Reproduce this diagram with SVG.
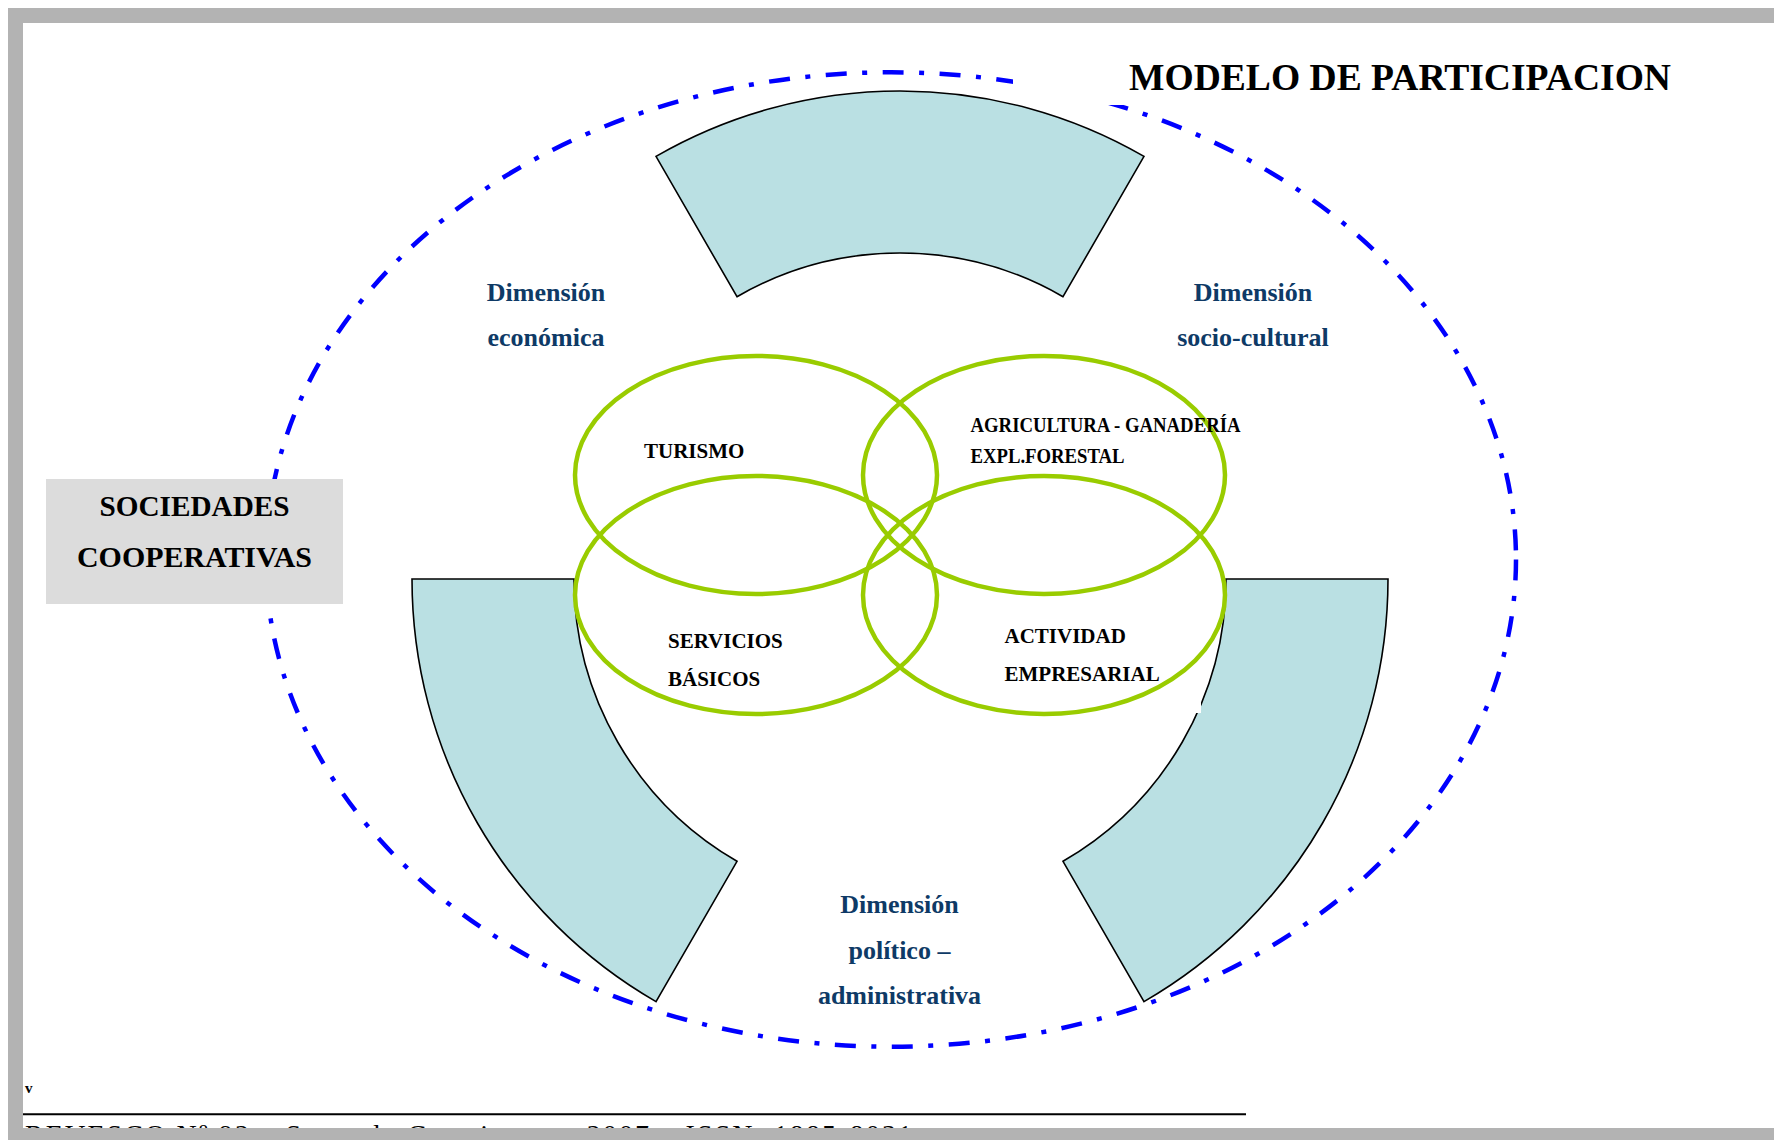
<svg xmlns="http://www.w3.org/2000/svg" width="1774" height="1140" viewBox="0 0 1774 1140">
<style>
.band{fill:#BAE0E3;stroke:#000;stroke-width:1.6;stroke-linejoin:miter}
.venn{fill:none;stroke:#99CC00;stroke-width:4.5}
.dim{font-family:"Liberation Serif","Times New Roman",serif;font-weight:bold;font-size:26px;fill:#0E3A66;text-anchor:middle}
.lbl{font-family:"Liberation Serif","Times New Roman",serif;font-weight:bold;font-size:21px;fill:#000}
.frame{fill:#B3B3B3}
</style>
<rect x="0" y="0" width="1774" height="1140" fill="#fff"/>
<g id="frame">
<rect class="frame" x="8" y="8" width="1766" height="15"/>
<rect class="frame" x="8" y="8" width="15" height="1132"/>
</g>
<g id="outer-ellipse">
<ellipse cx="891" cy="559.5" rx="625" ry="487.2" fill="none" stroke="#0000FF" stroke-width="4.5" stroke-dasharray="21 15.5 5 15.5"/>
</g>
<g id="title">
<rect x="1013" y="24" width="700" height="81" fill="#fff"/>
<text x="1129" y="90" font-family="Liberation Serif,'Times New Roman',serif" font-weight="bold" font-size="37" textLength="542" lengthAdjust="spacingAndGlyphs">MODELO DE PARTICIPACION</text>
</g>
<g id="band-top">
<path class="band" d="M656,156.4 A488,488 0 0 1 1144,156.4 L1063,296.7 A326,326 0 0 0 737,296.7 Z"/>
</g>
<g id="band-left">
<path class="band" d="M412,579 L574,579 A326,326 0 0 0 737,861.3 L656,1001.6 A488,488 0 0 1 412,579 Z"/>
</g>
<g id="band-right">
<path class="band" d="M1388,579 L1226,579 A326,326 0 0 1 1063,861.3 L1144,1001.6 A488,488 0 0 0 1388,579 Z"/>
<rect x="1150" y="686" width="51" height="27" fill="#fff"/>
</g>
<g id="sociedades">
<rect x="46" y="479" width="297" height="125" fill="#DCDCDC"/>
<text x="194.5" y="516" font-family="Liberation Serif,'Times New Roman',serif" font-weight="bold" font-size="29" text-anchor="middle" textLength="190" lengthAdjust="spacingAndGlyphs">SOCIEDADES</text>
<text x="194.5" y="567" font-family="Liberation Serif,'Times New Roman',serif" font-weight="bold" font-size="29" text-anchor="middle" textLength="235" lengthAdjust="spacingAndGlyphs">COOPERATIVAS</text>
</g>
<g id="dim-economica">
<text class="dim" x="546" y="301">Dimensión</text>
<text class="dim" x="546" y="346">económica</text>
</g>
<g id="dim-sociocultural">
<text class="dim" x="1253" y="301">Dimensión</text>
<text class="dim" x="1253" y="346">socio-cultural</text>
</g>
<g id="dim-politico">
<text class="dim" x="899.5" y="913">Dimensión</text>
<text class="dim" x="899.5" y="958.5">político –</text>
<text class="dim" x="899.5" y="1004">administrativa</text>
</g>
<g id="turismo">
<ellipse class="venn" cx="756" cy="475" rx="181" ry="119"/>
<text class="lbl" x="644" y="458">TURISMO</text>
</g>
<g id="agricultura">
<ellipse class="venn" cx="1044" cy="475" rx="181" ry="119"/>
<text class="lbl" x="970.5" y="431.7" font-size="18.5" textLength="270" lengthAdjust="spacingAndGlyphs">AGRICULTURA - GANADERÍA</text>
<text class="lbl" x="970.5" y="462.7" font-size="18.5" textLength="154" lengthAdjust="spacingAndGlyphs">EXPL.FORESTAL</text>
</g>
<g id="servicios">
<ellipse class="venn" cx="756" cy="595" rx="181" ry="119"/>
<text class="lbl" x="668" y="647.7">SERVICIOS</text>
<text class="lbl" x="668" y="685.7">BÁSICOS</text>
</g>
<g id="actividad">
<ellipse class="venn" cx="1044" cy="595" rx="181" ry="119"/>
<text class="lbl" x="1004.5" y="643.3">ACTIVIDAD</text>
<text class="lbl" x="1004.5" y="680.7">EMPRESARIAL</text>
</g>
<g id="connectors"></g>
<g id="footer">
<text x="25" y="1093" font-family="Liberation Serif,'Times New Roman',serif" font-weight="bold" font-size="15">v</text>
<line x1="23" y1="1114.3" x2="1246" y2="1114.3" stroke="#000" stroke-width="2"/>
<text x="25" y="1144" font-family="Liberation Serif,'Times New Roman',serif" font-size="28" textLength="887" lengthAdjust="spacing">REVESCO Nº 92 – Segundo Cuatrimestre 2007 – ISSN: 1885-8031</text>
<rect class="frame" x="8" y="1128" width="1766" height="12"/>
</g>
</svg>
